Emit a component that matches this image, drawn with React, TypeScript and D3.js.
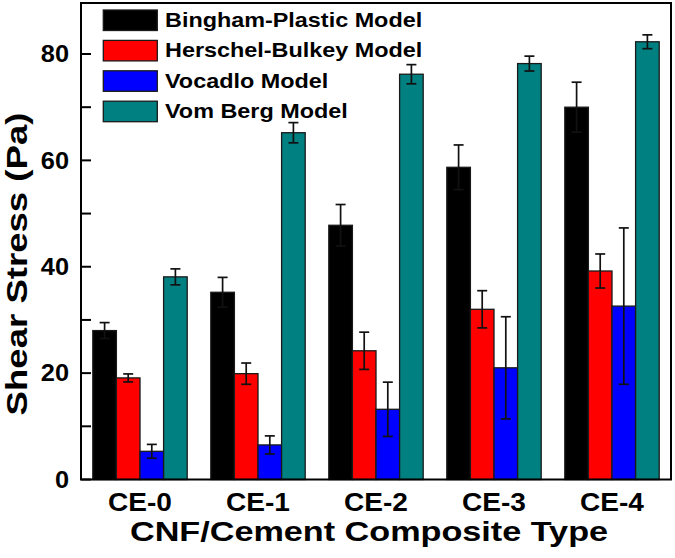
import React from "react";
import * as d3 from "d3";

const categories = ["CE-0", "CE-1", "CE-2", "CE-3", "CE-4"];
const seriesNames = ["Bingham-Plastic Model", "Herschel-Bulkey Model", "Vocadlo Model", "Vom Berg Model"];
const seriesColors = ["#000000", "#ff0000", "#0000ff", "#008080"];
const binghamValues = [28.0, 35.2, 47.8, 58.7, 70.0];
const binghamErrors = [1.5, 2.8, 3.9, 4.2, 4.7];
const herschelValues = [19.1, 19.9, 24.2, 32.0, 39.2];
const herschelErrors = [0.75, 2.0, 3.5, 3.5, 3.2];
const vocadloValues = [5.3, 6.5, 13.2, 21.0, 32.6];
const vocadloErrors = [1.3, 1.7, 5.1, 9.6, 14.7];
const vomBergValues = [38.1, 65.2, 76.2, 78.2, 82.3];
const vomBergErrors = [1.5, 1.9, 1.8, 1.4, 1.3];
const yTickLabels = [0, 20, 40, 60, 80];
const yMinorTicks = [10, 30, 50, 70];

const seriesValues = [binghamValues, herschelValues, vocadloValues, vomBergValues];
const seriesErrors = [binghamErrors, herschelErrors, vocadloErrors, vomBergErrors];

const W = 675;
const H = 558;
const left = 81;
const right = 671;
const top = 3;
const bottom = 479.5;
const FONT = "'Liberation Sans', Arial, sans-serif";

export default function App() {
  const y = d3.scaleLinear().domain([0, 80]).range([bottom, 54]);
  const x0 = d3.scaleBand<string>().domain(categories).range([left, right]).paddingInner(0.2).paddingOuter(0.1);
  const x1 = d3.scaleBand<number>().domain(d3.range(seriesNames.length)).range([0, x0.bandwidth()]);

  return (
    <svg width={W} height={H} style={{ position: "absolute", left: 0, top: 0 }} fontFamily={FONT}>
      <rect x={0} y={0} width={W} height={H} fill="#fff" />
      {/* bars */}
      {categories.map((c, ci) => (
        <g key={c} transform={`translate(${x0(c)},0)`}>
          {seriesNames.map((s, si) => {
            const v = seriesValues[si][ci];
            const e = seriesErrors[si][ci];
            const bx = x1(si)!;
            const bw = x1.bandwidth();
            const cx = bx + bw / 2;
            return (
              <g key={s}>
                <rect x={bx} y={y(v)} width={bw} height={y(0) - y(v)} fill={seriesColors[si]} stroke="#1a1a1a" strokeWidth={1.3} />
                <line x1={cx} x2={cx} y1={y(v + e)} y2={y(v - e)} stroke="#111" strokeWidth={1.7} />
                <line x1={cx - 5} x2={cx + 5} y1={y(v + e)} y2={y(v + e)} stroke="#111" strokeWidth={1.7} />
                <line x1={cx - 5} x2={cx + 5} y1={y(v - e)} y2={y(v - e)} stroke="#111" strokeWidth={1.7} />
              </g>
            );
          })}
        </g>
      ))}
      {/* frame */}
      <rect x={left} y={top} width={right - left} height={bottom - top} fill="none" stroke="#000" strokeWidth={2} />
      {/* y ticks */}
      {yTickLabels.map((t) => (
        <g key={t}>
          <line x1={left} x2={left + 10} y1={y(t)} y2={y(t)} stroke="#000" strokeWidth={2} />
          <text x={0} y={0} transform={`translate(69,${y(t)}) scale(1.08,1)`} textAnchor="end" dominantBaseline="central" fontSize={23.5} fontWeight="bold">
            {t}
          </text>
        </g>
      ))}
      {yMinorTicks.map((t) => (
        <line key={t} x1={left} x2={left + 10} y1={y(t)} y2={y(t)} stroke="#000" strokeWidth={2} />
      ))}
      {/* x labels */}
      {categories.map((c) => (
        <text key={c} x={0} y={0} transform={`translate(${x0(c)! + x0.bandwidth() / 2},510.5) scale(1.1,1)`} textAnchor="middle" fontSize={25.5} fontWeight="bold">
          {c}
        </text>
      ))}
      <text x={0} y={0} transform="translate(369,541) scale(1.2,1)" textAnchor="middle" fontSize={28.5} fontWeight="bold">
        CNF/Cement Composite Type
      </text>
      <text x={0} y={0} transform="translate(27,264) rotate(-90) scale(1.24,1)" textAnchor="middle" fontSize={29.5} fontWeight="bold">
        Shear Stress (Pa)
      </text>
      {/* legend */}
      {seriesNames.map((s, i) => {
        const ly = 10 + i * 30.4;
        return (
          <g key={s}>
            <rect x={103.3} y={ly} width={54} height={20.5} fill={seriesColors[i]} stroke="#1a1a1a" strokeWidth={1.3} />
            <text x={0} y={0} transform={`translate(165,${ly + 10.5}) scale(1.2,1)`} dominantBaseline="central" fontSize={19.5} fontWeight="bold">
              {s}
            </text>
          </g>
        );
      })}
    </svg>
  );
}
